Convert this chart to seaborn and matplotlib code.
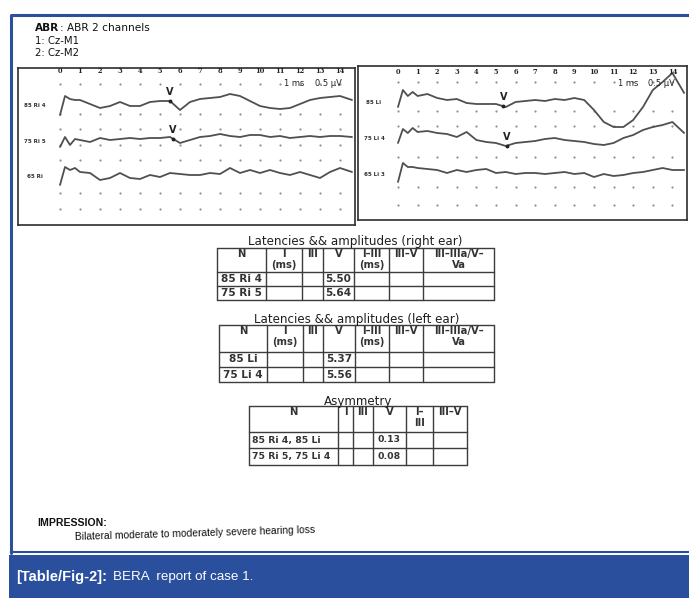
import numpy as np
import matplotlib
matplotlib.use("Agg")
import matplotlib.pyplot as plt
from matplotlib.patches import Rectangle
import seaborn as sns

sns.set_style("white")
plt.rcParams['font.family'] = ['DejaVu Sans']

W, H = 689, 598
BLUE = '#2a4f9c'
INK = '#3c3c3c'

# recording time axis (ms)
ms = [0, 0.25, 0.5, 0.75, 1, 1.5, 2, 2.5, 3, 3.5, 4, 4.5, 5, 5.5, 6, 6.5,
      7, 7.5, 8, 8.5, 9, 9.5, 10, 10.5, 11, 11.5, 12, 12.5, 13, 13.5, 14, 14.6]
tick_ms = list(range(15))

# right ear traces (amplitude, screen units, up = positive)
ri_85 = [-12, 7, 4, 3, 3, -1, -5, -3, 1, -3, -3, 1, 2, 2, -7, 1,
         4, 5, 6, 9, 7, 2, -3, -5, -6, -5, -1, 3, 5, 6, 7, 3]
ri_75 = [-8, 2, -6, 0, -1, -3, 1, -1, 0, 1, 0, 1, 1, 2, -4, -1,
         2, 3, 5, 3, 2, 4, 4, 2, 3, 1, 2, 3, 2, 3, 3, 2]
ri_65 = [-11, 7, 4, 6, 2, 1, -6, -4, 1, -4, -5, -1, -3, 1, 0, -1,
         -1, 1, 0, 6, 1, 4, 1, 4, 1, -1, 2, -1, -4, 2, 6, 2]
# left ear traces
li_85 = [-7, 10, 4, 8, 4, 6, 2, 0, 1, -3, -4, -4, -4, -7, -2, -1,
         0, -1, 1, 0, 2, 0, -10, -22, -27, -27, -20, -7, 10, 18, 27, 7]
li_75 = [-6, 8, 4, 9, 5, 6, 4, 3, 0, 5, -3, -5, -6, -9, -6, -5,
         -4, -2, -1, -3, -4, -5, -7, -8, -6, -1, 2, 7, 10, 12, 15, 4]
li_65 = [-10, 9, 5, 5, 4, 3, 2, -1, 2, 0, 2, 3, -1, 0, -2, -1,
         -1, -2, -1, 0, -2, -1, -5, -2, -4, -3, -1, 0, 2, 4, 2, 2]

right_names = ['85 Ri 4', '75 Ri 5', '65 Ri']
left_names = ['85 Li', '75 Li 4', '65 Li 3']

# table contents
lat_headers = ['N', 'I\n(ms)', 'III', 'V', 'I–III\n(ms)', 'III–V', 'III–IIIa/V–\nVa']
right_rows = ['85 Ri 4', '75 Ri 5']
right_v = [5.50, 5.64]
left_rows = ['85 Li', '75 Li 4']
left_v = [5.37, 5.56]
asym_headers = ['N', 'I', 'III', 'V', 'I–\nIII', 'III–V']
asym_rows = ['85 Ri 4, 85 Li', '75 Ri 5, 75 Li 4']
asym_v = [0.13, 0.08]

fig = plt.figure(figsize=(W / 100, H / 100), dpi=100)
bg = fig.add_axes([0, 0, 1, 1])
bg.set_xlim(0, W)
bg.set_ylim(H, 0)
bg.axis('off')


def px_axes(x0, y0, x1, y1):
    return fig.add_axes([x0 / W, 1 - y1 / H, (x1 - x0) / W, (y1 - y0) / H])


def draw_panel(ax, box, t0, scale, traces, names, base_y, row_y, label_x, marks,
               tick_y, note_y):
    x0, y0, x1, y1 = box

    def tx(px):
        return (px - t0) / scale

    def ty(py):
        return y1 - py

    ax.set_xlim(tx(x0), tx(x1))
    ax.set_ylim(0, y1 - y0)
    ax.set_xticks([])
    ax.set_yticks([])
    for sp in ax.spines.values():
        sp.set_visible(True)
        sp.set_color('#2e2e2e')
        sp.set_linewidth(1.2)

    gx, gy = np.meshgrid(tick_ms, [ty(r) for r in row_y])
    sns.scatterplot(x=gx.ravel(), y=gy.ravel(), ax=ax, s=2.5, color='#909090',
                    linewidth=0, legend=False)

    for amp, name, b in zip(traces, names, base_y):
        sns.lineplot(x=ms, y=np.array(amp) + ty(b), ax=ax, color='#505050',
                     linewidth=1.3, estimator=None)
        ax.text(tx(label_x), ty(b + 2), name, ha='center', va='center',
                fontsize=4, fontweight='bold', color='#333')

    for i, lat in marks:
        yv = np.interp(lat, ms, traces[i]) + ty(base_y[i])
        ax.plot([lat], [yv], marker='o', ms=1.8, color='#222')
        ax.text(lat, yv + 9, 'V', ha='center', va='center', fontsize=7,
                fontweight='bold', color='#222')

    for t in tick_ms:
        ax.text(t, ty(tick_y), str(t), ha='center', va='center', fontsize=4.8,
                fontweight='bold', family='DejaVu Serif', color='#222')
    ax.text(11.2, ty(note_y), '1 ms', ha='left', va='center', fontsize=6,
            color='#222')
    ax.text(12.75, ty(note_y), '0.5 µV', ha='left', va='center', fontsize=6,
            color='#222')


def draw_table(title, title_y, cols, rows_y, headers, names, values,
               name_left=False, size=7.6):
    for x in cols:
        bg.plot([x, x], [rows_y[0], rows_y[-1]], color=INK, lw=1.0)
    for y in rows_y:
        bg.plot([cols[0], cols[-1]], [y, y], color=INK, lw=1.0)
    bg.text((cols[0] + cols[-1]) / 2, title_y, title, ha='center', va='center',
            fontsize=8.6, color='#1e1e1e')
    for i, h in enumerate(headers):
        bg.text((cols[i] + cols[i + 1]) / 2, rows_y[0] + 1.2, h, ha='center',
                va='top', fontsize=7.2, fontweight='bold', color='#333',
                linespacing=1.05)
    for r, (nm, v) in enumerate(zip(names, values)):
        yc = (rows_y[r + 1] + rows_y[r + 2]) / 2
        if name_left:
            bg.text(cols[0] + 3, yc, nm, ha='left', va='center', fontsize=size,
                    fontweight='bold', color='#333')
        else:
            bg.text((cols[0] + cols[1]) / 2, yc, nm, ha='center', va='center',
                    fontsize=size, fontweight='bold', color='#333')
        bg.text((cols[3] + cols[4]) / 2, yc, f'{v:.2f}', ha='center', va='center',
                fontsize=size, fontweight='bold', color='#333')


# report frame and caption band
bg.plot([12, W], [15, 15], color=BLUE, lw=2.2)
bg.plot([11, 11], [15, 553], color=BLUE, lw=2.2)
bg.plot([11, W], [552, 552], color=BLUE, lw=1.5)
bg.add_patch(Rectangle((9, 555), W - 9, H - 555, color=BLUE, lw=0))
bg.text(16, 577, '[Table/Fig-2]:', color='white', fontsize=10.5, fontweight='bold',
        family='Liberation Sans', va='center')
bg.text(113, 577, 'BERA  report of case 1.', color='white', fontsize=9.6,
        family='Liberation Sans', va='center')

# header
bg.text(35, 28, 'ABR', fontsize=7.6, fontweight='bold', va='center', color='#111')
bg.text(60, 28, ': ABR 2 channels', fontsize=7.6, va='center', color='#111')
bg.text(35, 41, '1: Cz-M1', fontsize=7.3, va='center', color='#111')
bg.text(35, 53, '2: Cz-M2', fontsize=7.3, va='center', color='#111')

# waveform panels
ax_r = px_axes(18, 68, 355, 225)
draw_panel(ax_r, (18, 68, 355, 225), 60, 20.0, [ri_85, ri_75, ri_65], right_names,
           [103, 139, 174], [84, 114, 129, 145, 160, 193, 209], 35,
           [(0, right_v[0]), (1, right_v[1])], 71, 83)
ax_l = px_axes(358, 66, 687, 220)
draw_panel(ax_l, (358, 66, 687, 220), 398, 19.6, [li_85, li_75, li_65], left_names,
           [100, 137, 172], [82, 111, 126, 157, 187, 205], 374,
           [(0, left_v[0]), (1, left_v[1])], 72, 83)

# tables
draw_table('Latencies && amplitudes (right ear)', 242,
           [217, 266, 302, 323, 354, 389, 423, 494], [248, 272, 286, 300],
           lat_headers, right_rows, right_v)
draw_table('Latencies && amplitudes (left ear)', 319,
           [219, 267, 303, 323, 355, 389, 423, 494], [325, 352, 367, 382],
           lat_headers, left_rows, left_v)
draw_table('Asymmetry', 402,
           [249, 338, 353, 373, 406, 433, 467], [406, 432, 448, 465],
           asym_headers, asym_rows, asym_v, name_left=True, size=6.7)

# impression
bg.text(37, 523, 'IMPRESSION:', fontsize=7.6, fontweight='bold',
        family='Liberation Sans', va='center', color='#111')
bg.text(75, 537, 'Bilateral moderate to moderately severe hearing loss', fontsize=7.4,
        family='Liberation Sans', va='center', ha='left', rotation=1.7,
        rotation_mode='anchor', color='#111')

fig.savefig('out.png', dpi=100)
